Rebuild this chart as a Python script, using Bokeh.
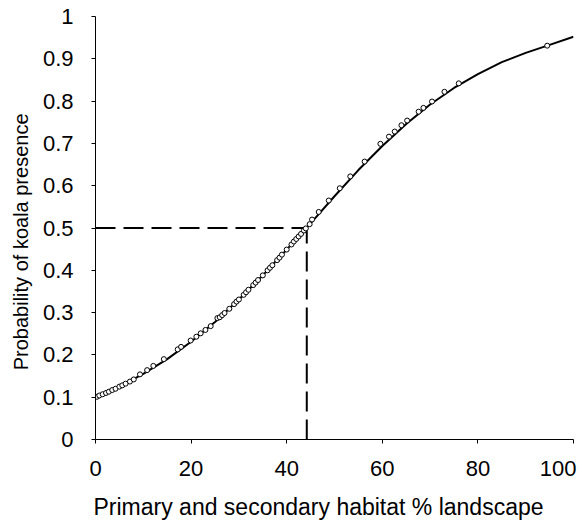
from bokeh.plotting import figure
from bokeh.models import FixedTicker
from bokeh.embed import file_html
from bokeh.resources import INLINE

# ---- data ----
curve_x = [0, 5, 10, 15, 20, 25, 30, 35, 40, 45, 50, 55, 60, 65, 70, 75, 80, 85, 90, 95, 100]
curve_p = [0.100, 0.125, 0.155, 0.190, 0.231, 0.278, 0.331, 0.388, 0.449, 0.511, 0.575,
           0.637, 0.694, 0.746, 0.792, 0.831, 0.864, 0.892, 0.914, 0.933, 0.952]

obs_x = [0.3, 0.8, 1.5, 2.2, 2.8, 3.5, 4.2, 5.0, 5.6, 6.3, 7.2, 8.0,
         9.3, 10.8, 12.1, 14.3, 17.2, 17.9, 19.9, 21.1, 22.0, 23.0, 24.1, 25.5,
         26.0, 26.5, 27.0, 28.0, 29.0, 29.5, 30.0, 31.0, 31.5, 32.0, 33.0, 33.5, 34.0,
         35.0, 36.0, 36.5, 37.0, 38.0, 38.5, 39.0, 40.0, 41.0, 41.5, 42.0, 42.5, 43.0,
         43.6, 44.0,
         44.8, 45.3, 46.7, 48.8, 51.1, 53.3, 56.3, 59.6, 61.4, 62.6, 64.0, 65.2, 67.6,
         68.6, 70.4, 73.0, 76.0, 94.5]
obs_p = [0.101, 0.104, 0.107, 0.110, 0.113, 0.117, 0.120, 0.125, 0.128, 0.132, 0.137, 0.142,
         0.154, 0.164, 0.174, 0.190, 0.213, 0.219, 0.234, 0.243, 0.251, 0.259, 0.268, 0.287,
         0.289, 0.294, 0.299, 0.309, 0.320, 0.326, 0.331, 0.342, 0.348, 0.354, 0.365, 0.371, 0.377,
         0.388, 0.400, 0.406, 0.412, 0.424, 0.430, 0.437, 0.449, 0.461, 0.468, 0.474, 0.480, 0.486,
         0.494, 0.499,
         0.509, 0.520, 0.538, 0.565, 0.594, 0.622, 0.657, 0.699, 0.716, 0.728, 0.743, 0.754, 0.775,
         0.784, 0.799, 0.822, 0.842, 0.931]

threshold_x = [44.2]
threshold_p = [0.5]

x_ticks = [0, 20, 40, 60, 80, 100]
x_tick_labels = ["0", "20", "40", "60", "80", "100"]
y_ticks = [0, 0.1, 0.2, 0.3, 0.4, 0.5, 0.6, 0.7, 0.8, 0.9, 1]
y_tick_labels = ["0", "0.1", "0.2", "0.3", "0.4", "0.5", "0.6", "0.7", "0.8", "0.9", "1"]

x_title = "Primary and secondary habitat % landscape"
y_title = "Probability of koala presence"

FONT = "Liberation Sans"
NBSP = "\u00a0"

p = figure(width=582, height=522, x_range=(0, 100), y_range=(0, 1),
           output_backend="svg", toolbar_location=None,
           min_border_left=95, min_border_right=9, min_border_top=16, min_border_bottom=83)
p.outline_line_color = None
p.xgrid.grid_line_color = None
p.ygrid.grid_line_color = None
p.background_fill_color = "white"
p.border_fill_color = "white"

for ax in (p.xaxis[0], p.yaxis[0]):
    ax.axis_line_color = "black"
    ax.axis_line_width = 1
    ax.major_tick_line_color = "black"
    ax.major_tick_in = 0
    ax.major_tick_out = 4
    ax.minor_tick_line_color = None
    ax.major_label_text_font = FONT
    ax.major_label_text_font_size = "22px"
    ax.major_label_text_color = "black"
    ax.axis_label_text_font = FONT
    ax.axis_label_text_font_style = "normal"
    ax.axis_label_text_color = "black"

p.xaxis.axis_label_text_font_size = "23px"
p.yaxis.axis_label_text_font_size = "20px"

p.xaxis.ticker = FixedTicker(ticks=x_ticks)
p.yaxis.ticker = FixedTicker(ticks=y_ticks)
xo = {t: l for t, l in zip(x_ticks, x_tick_labels)}
# the last label sits a little inside the frame in the reference
xo[x_ticks[-1]] = x_tick_labels[-1] + NBSP
p.xaxis.major_label_overrides = xo
p.yaxis.major_label_overrides = {t: l for t, l in zip(y_ticks, y_tick_labels)}
p.xaxis.major_label_standoff = 12
p.yaxis.major_label_standoff = 18
# titles are set slightly off-centre in the reference
p.xaxis.axis_label = x_title + NBSP * 5
p.yaxis.axis_label = y_title + NBSP * 5
p.xaxis.axis_label_standoff = 10
p.yaxis.axis_label_standoff = 8

# dashed guides at p = 0.5
p.line([0, threshold_x[0]], [threshold_p[0], threshold_p[0]],
       line_color="black", line_width=2, line_dash="20 8")
p.line([threshold_x[0], threshold_x[0]], [0, threshold_p[0]],
       line_color="black", line_width=2, line_dash="20 8")

# fitted curve
p.line(curve_x, curve_p, line_color="black", line_width=2)

# observations
p.scatter(obs_x, obs_p, marker="circle", size=5, line_color="black", line_width=1,
          fill_color="white")

open("out.html", "w").write(file_html(p, INLINE))
